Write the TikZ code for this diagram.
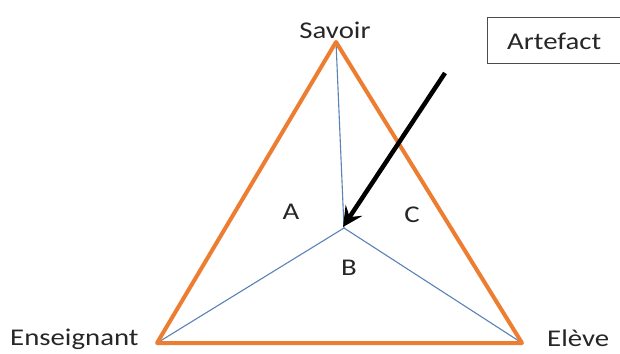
\documentclass[tikz,border=0pt]{standalone}
\usepackage{fontspec}
\setmainfont{Carlito}[FakeStretch=1.2]
\usepackage{tikz}
\usetikzlibrary{arrows.meta,positioning,calc}
\definecolor{orangeoff}{RGB}{237,125,49}
\definecolor{bleuoff}{RGB}{91,130,180}

\begin{document}
\begin{tikzpicture}[x=1pt, y=-1pt,
    label/.style={font=\fontsize{24}{28}\selectfont, text=black!85, inner sep=0pt},
    cote/.style={line width=4pt, orangeoff, line join=round},
    rayon/.style={line width=1.1pt, bleuoff}]
    \useasboundingbox (0,0) rectangle (620,353);
    \clip (0,0) rectangle (620,353);

    % sommets du triangle
    \coordinate (S) at (336,42);
    \coordinate (E) at (157,343);
    \coordinate (L) at (522,343);
    \coordinate (O) at (344,228);

    % rayons vers le centre
    \draw[rayon] (S) -- (O);
    \draw[rayon] (E) -- (O);
    \draw[rayon] (L) -- (O);

    % triangle didactique
    \draw[cote] (S) -- (E) -- (L) -- cycle;

    % sommets
    \node[label] (savoir) at (335,30) {Savoir};
    \node[label, anchor=west] (ens) at (10,339) {Enseignant};
    \node[label, anchor=west] (eleve) at (547,338) {Elève};

    % zones
    \node[label] (zA) at (291,212) {A};
    \node[label] (zB) at (349,268) {B};
    \node[label] (zC) at (412,215) {C};

    % artefact
    \draw[line width=1pt, black!70] (487,18) rectangle (700,63);
    \node[label, anchor=west] (art) at (507,41) {Artefact};
    \coordinate (depart) at (445,73);
    \coordinate (pointe) at (343,227);
    \draw[line width=4.5pt, -{Stealth[length=20pt, width=20pt, inset=8pt]}] (depart) -- (pointe);
\end{tikzpicture}
\end{document}
